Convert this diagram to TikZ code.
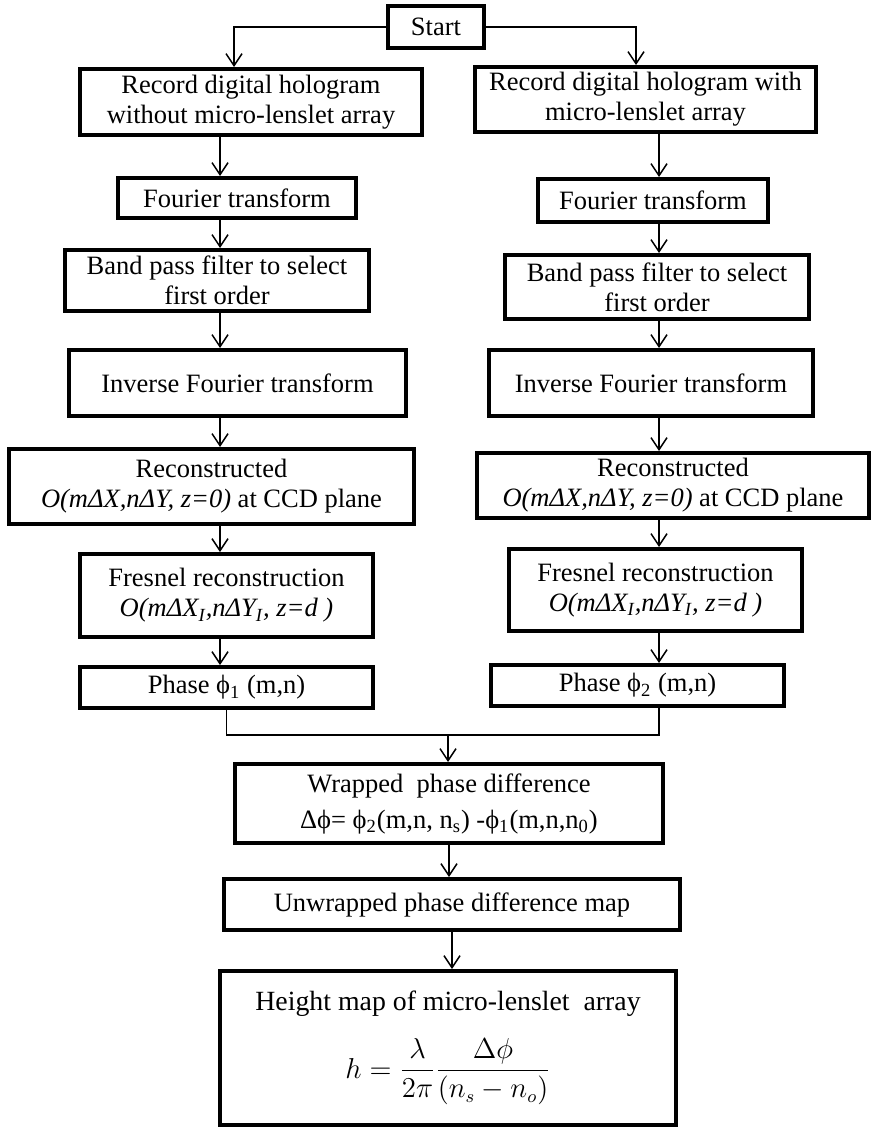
\documentclass[tikz,border=0pt]{standalone}
\usepackage{amsmath}
\usepackage{fontspec}
\setmainfont{Liberation Serif}
\usetikzlibrary{arrows.meta}

\begin{document}
\begin{tikzpicture}[
  x=0.5pt, y=-0.5pt,
  every node/.style={font=\fontsize{13.25pt}{15pt}\selectfont},
  stage/.style={draw, line width=2pt, fill=white, align=center, inner sep=0pt},
  flow/.style={-{Straight Barb[length=6pt,width=8pt]}, line width=0.75pt},
  link/.style={line width=0.75pt},
]
  \useasboundingbox (0,0) rectangle (872,1129);

  % Arrow columns of the two branches and the point where they meet.
  \coordinate (colL) at (220,0);
  \coordinate (colR) at (659,0);
  \coordinate (join) at (448,735);

  \node[stage, minimum width=48pt, minimum height=21pt] (start) at (436,27) {Start};

  % Left branch: hologram without the lenslet array.
  \node[stage, minimum width=171pt, minimum height=33pt] (recL) at (251,102)
    {Record digital hologram\\without micro-lenslet array};
  \node[stage, minimum width=119pt, minimum height=20pt] (fftL) at (237,198) {Fourier transform};
  \node[stage, minimum width=152pt, minimum height=30.5pt] (bpL) at (217,280.5)
    {Band pass filter to select\\first order};
  \node[stage, minimum width=168.5pt, minimum height=33pt] (iftL) at (237.5,383) {Inverse Fourier transform};
  \node[stage, minimum width=202.5pt, minimum height=37.5pt] (ccdL) at (211.5,486.5)
    {Reconstructed\\\textit{O(mΔX,nΔY, z=0)} at CCD plane};
  \node[stage, minimum width=146.5pt, minimum height=41.5pt] (fresL) at (226.5,595.5)
    {Fresnel reconstruction\\\textit{O(mΔX\textsubscript{I},nΔY\textsubscript{I}, z=d )}};
  \node[stage, minimum width=146.5pt, minimum height=20.5pt] (phL) at (226.5,687.5)
    {Phase ϕ\textsubscript{1} (m,n)};

  % Right branch: hologram with the lenslet array.
  \node[stage, minimum width=170.5pt, minimum height=32.5pt] (recR) at (645.5,99.5)
    {Record digital hologram with\\micro-lenslet array};
  \node[stage, minimum width=115pt, minimum height=21.5pt] (fftR) at (653,200.5) {Fourier transform};
  \node[stage, minimum width=152pt, minimum height=32pt] (bpR) at (657,287)
    {Band pass filter to select\\first order};
  \node[stage, minimum width=162pt, minimum height=33pt] (iftR) at (651,383) {Inverse Fourier transform};
  \node[stage, minimum width=196pt, minimum height=32.5pt] (ccdR) at (673,485.5)
    {Reconstructed\\\textit{O(mΔX,nΔY, z=0)} at CCD plane};
  \node[stage, minimum width=146.5pt, minimum height=41pt] (fresR) at (655.5,590)
    {Fresnel reconstruction\\\textit{O(mΔX\textsubscript{I},nΔY\textsubscript{I}, z=d )}};
  \node[stage, minimum width=146.5pt, minimum height=20.5pt] (phR) at (637.5,685.5)
    {Phase ϕ\textsubscript{2} (m,n)};

  % Common tail.
  \node[stage, minimum width=214pt, minimum height=39.5pt] (wrap) at (449,803.5)
    {Wrapped\ \ phase difference\\[3pt]
     Δϕ= ϕ\textsubscript{2}(m,n, n\textsubscript{s}) -ϕ\textsubscript{1}(m,n,n\textsubscript{0})};
  \node[stage, minimum width=228pt, minimum height=25.5pt] (unwrap) at (452,904.5)
    {Unwrapped phase difference map};
  \node[stage, minimum width=228pt, minimum height=77pt] (height) at (448,1048)
    {\fontsize{13.9pt}{15pt}\selectfont Height map of micro-lenslet\ \ array\\[10pt]
     $h=\dfrac{\lambda}{2\pi}\dfrac{\Delta\phi}{\left(n_s-n_o\right)}$};

  % Connectors.
  \draw[flow] (start.west) -| ([xshift=-8.5pt]recL.north);
  \draw[flow] (start.east) -| ([xshift=-4.75pt]recR.north);
  \draw[flow] (recL.south -| colL) -- (fftL.north -| colL);
  \draw[flow] (fftL.south -| colL) -- (bpL.north -| colL);
  \draw[flow] (bpL.south -| colL) -- (iftL.north -| colL);
  \draw[flow] (iftL.south -| colL) -- (ccdL.north -| colL);
  \draw[flow] (ccdL.south -| colL) -- (fresL.north -| colL);
  \draw[flow] (fresL.south -| colL) -- (phL.north -| colL);
  \draw[flow] (recR.south -| colR) -- (fftR.north -| colR);
  \draw[flow] (fftR.south -| colR) -- (bpR.north -| colR);
  \draw[flow] (bpR.south -| colR) -- (iftR.north -| colR);
  \draw[flow] (iftR.south -| colR) -- (ccdR.north -| colR);
  \draw[flow] (ccdR.south -| colR) -- (fresR.north -| colR);
  \draw[flow] (fresR.south -| colR) -- (phR.north -| colR);
  \draw[link] (phL.south) |- (join);
  \draw[link] (phR.south -| colR) |- (join);
  \draw[flow] (join) -- (wrap.north -| join);
  \draw[flow] (wrap.south) -- (wrap.south |- unwrap.north);
  \draw[flow] (unwrap.south) -- (unwrap.south |- height.north);
\end{tikzpicture}
\end{document}
